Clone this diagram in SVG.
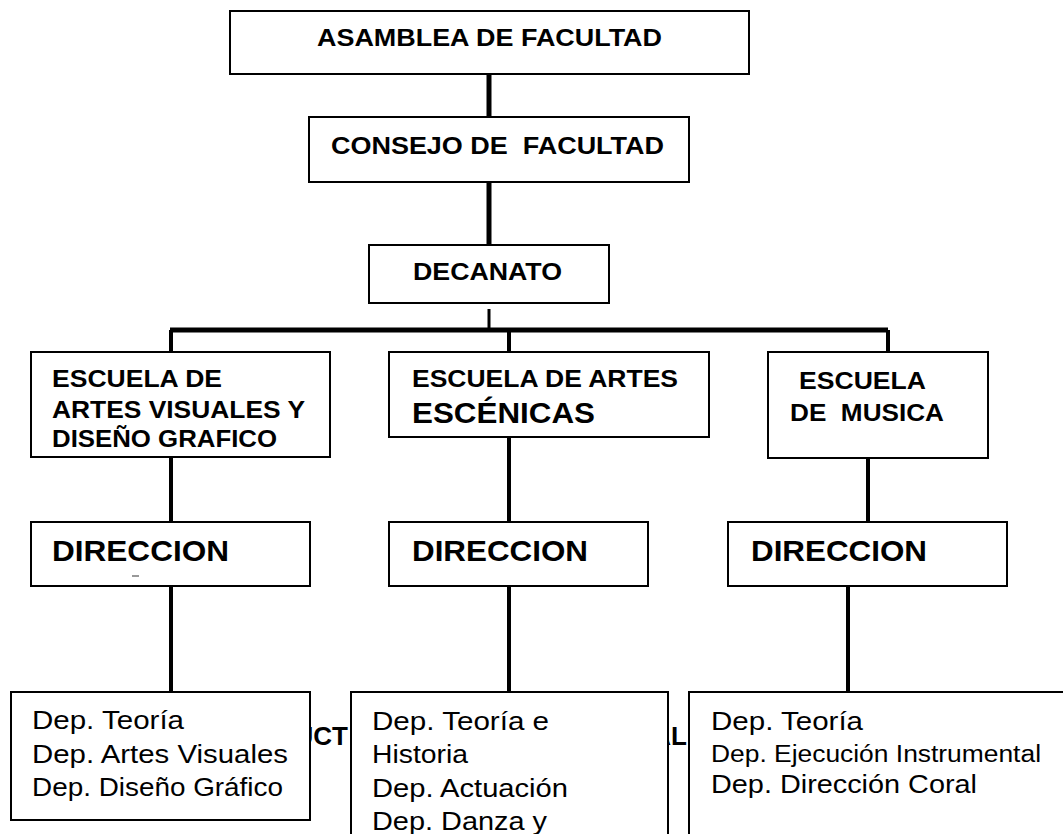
<svg xmlns="http://www.w3.org/2000/svg" width="1063" height="834" viewBox="0 0 1063 834">
<style>
.box{fill:#fff;stroke:#000;stroke-width:2}
.b{font-family:"Liberation Sans",Arial,sans-serif;font-weight:bold;fill:#000}
.r{font-family:"Liberation Sans",Arial,sans-serif;fill:#000}
.thick{stroke:#000;stroke-width:5;fill:none}
.thin{stroke:#000;stroke-width:4;fill:none}
</style>
<rect width="1063" height="834" fill="#fff"/>
<g id="background-text">
<text class="b" x="348" y="745" font-size="26" text-anchor="end">UCT</text>
<text class="b" x="687" y="745" font-size="26" text-anchor="end">AL</text>
</g>
<g id="connectors">
<line class="thick" x1="489" y1="74" x2="489" y2="117"/>
<line class="thick" x1="489" y1="182" x2="489" y2="245"/>
<line stroke="#000" stroke-width="3" x1="489" y1="309" x2="489" y2="330"/>
<line class="thick" x1="170" y1="330" x2="888" y2="330"/>
<line class="thin" x1="171" y1="330" x2="171" y2="352"/>
<line class="thin" x1="509" y1="330" x2="509" y2="352"/>
<line class="thin" x1="888" y1="330" x2="888" y2="352"/>
<line class="thin" x1="171" y1="457" x2="171" y2="522"/>
<line class="thin" x1="509" y1="437" x2="509" y2="522"/>
<line class="thin" x1="868" y1="458" x2="868" y2="522"/>
<line class="thin" x1="171" y1="586" x2="171" y2="692"/>
<line class="thin" x1="509" y1="586" x2="509" y2="692"/>
<line class="thin" x1="848" y1="586" x2="848" y2="692"/>
</g>
<g id="asamblea">
<rect class="box" x="230" y="11" width="519" height="63"/>
<text class="b" x="317" y="46" font-size="23.5" textLength="345" lengthAdjust="spacingAndGlyphs">ASAMBLEA DE FACULTAD</text>
</g>
<g id="consejo">
<rect class="box" x="309" y="117" width="380" height="65"/>
<text class="b" x="331" y="154" font-size="23.5" textLength="333" lengthAdjust="spacingAndGlyphs" xml:space="preserve">CONSEJO DE  FACULTAD</text>
</g>
<g id="decanato">
<rect class="box" x="369" y="245" width="240" height="58"/>
<text class="b" x="413" y="280" font-size="23.5" textLength="149" lengthAdjust="spacingAndGlyphs">DECANATO</text>
</g>
<g id="escuela-artes-visuales">
<rect class="box" x="31" y="352" width="299" height="105"/>
<text class="b" x="52" y="387" font-size="23.5" textLength="170" lengthAdjust="spacingAndGlyphs">ESCUELA DE</text>
<text class="b" x="52" y="418" font-size="23.5" textLength="253" lengthAdjust="spacingAndGlyphs">ARTES VISUALES Y</text>
<text class="b" x="52" y="447" font-size="23.5" textLength="225" lengthAdjust="spacingAndGlyphs">DISEÑO GRAFICO</text>
</g>
<g id="escuela-artes-escenicas">
<rect class="box" x="389" y="352" width="320" height="85"/>
<text class="b" x="412" y="387" font-size="23.5" textLength="266" lengthAdjust="spacingAndGlyphs">ESCUELA DE ARTES</text>
<text class="b" x="412" y="423" font-size="29" textLength="183" lengthAdjust="spacingAndGlyphs">ESCÉNICAS</text>
</g>
<g id="escuela-musica">
<rect class="box" x="768" y="352" width="220" height="106"/>
<text class="b" x="799" y="389" font-size="23.5" textLength="127" lengthAdjust="spacingAndGlyphs">ESCUELA</text>
<text class="b" x="790" y="421" font-size="23.5" textLength="154" lengthAdjust="spacingAndGlyphs" xml:space="preserve">DE  MUSICA</text>
</g>
<g id="direccion-1">
<rect class="box" x="31" y="522" width="279" height="64"/>
<text class="b" x="52" y="561" font-size="29.5" textLength="177" lengthAdjust="spacingAndGlyphs">DIRECCION</text>
<line x1="132" y1="576" x2="139" y2="576" stroke="#555" stroke-width="1.2"/>
</g>
<g id="direccion-2">
<rect class="box" x="389" y="522" width="259" height="64"/>
<text class="b" x="412" y="561" font-size="29.5" textLength="176" lengthAdjust="spacingAndGlyphs">DIRECCION</text>
</g>
<g id="direccion-3">
<rect class="box" x="728" y="522" width="279" height="64"/>
<text class="b" x="751" y="561" font-size="29.5" textLength="176" lengthAdjust="spacingAndGlyphs">DIRECCION</text>
</g>
<g id="departamentos-1">
<rect class="box" x="11" y="692" width="299" height="128"/>
<text class="r" x="32" y="729" font-size="25.5" textLength="152" lengthAdjust="spacingAndGlyphs">Dep. Teoría</text>
<text class="r" x="32" y="763" font-size="25.5" textLength="256" lengthAdjust="spacingAndGlyphs">Dep. Artes Visuales</text>
<text class="r" x="32" y="796" font-size="25.5" textLength="251" lengthAdjust="spacingAndGlyphs">Dep. Diseño Gráfico</text>
</g>
<g id="departamentos-2">
<rect class="box" x="351" y="692" width="317" height="160"/>
<text class="r" x="372" y="730" font-size="26" textLength="177" lengthAdjust="spacingAndGlyphs">Dep. Teoría e</text>
<text class="r" x="372" y="763" font-size="26" textLength="96" lengthAdjust="spacingAndGlyphs">Historia</text>
<text class="r" x="372" y="797" font-size="26" textLength="196" lengthAdjust="spacingAndGlyphs">Dep. Actuación</text>
<text class="r" x="372" y="830" font-size="26" textLength="175" lengthAdjust="spacingAndGlyphs">Dep. Danza y</text>
</g>
<g id="departamentos-3">
<rect class="box" x="689" y="692" width="400" height="160"/>
<text class="r" x="711" y="730" font-size="26" textLength="152" lengthAdjust="spacingAndGlyphs">Dep. Teoría</text>
<text class="r" x="711" y="762" font-size="23.5" textLength="330" lengthAdjust="spacingAndGlyphs">Dep. Ejecución Instrumental</text>
<text class="r" x="711" y="793" font-size="25" textLength="266" lengthAdjust="spacingAndGlyphs">Dep. Dirección Coral</text>
</g>
</svg>
